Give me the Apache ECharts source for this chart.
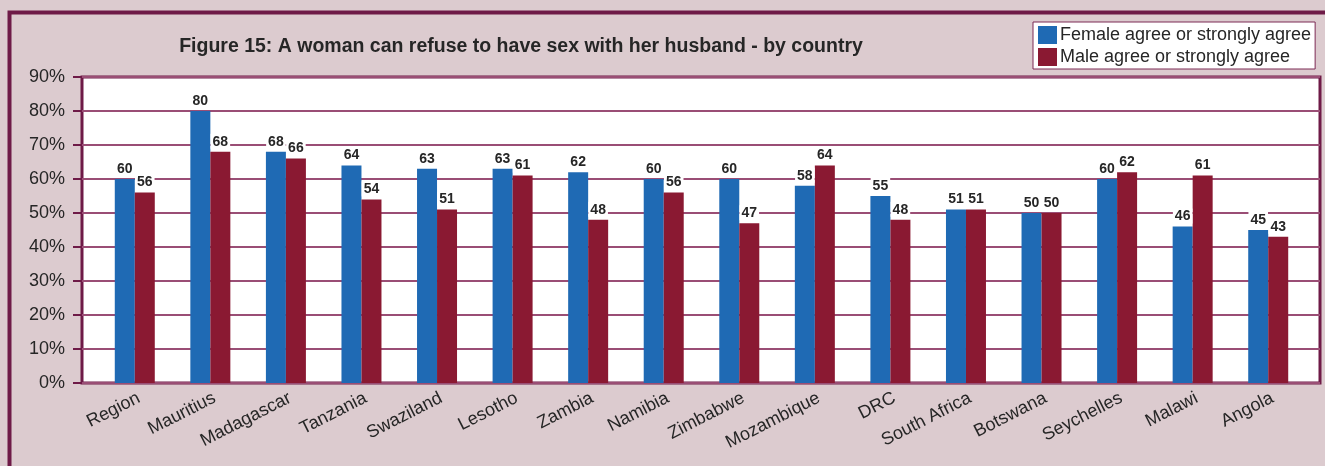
<!DOCTYPE html>
<html>
<head>
<meta charset="utf-8">
<script src="https://cdn.jsdelivr.net/npm/echarts@6/dist/echarts.min.js"></script>
<style>
  html, body { margin: 0; padding: 0; background: #dccbcf; }
  #chart { width: 1325px; height: 466px; }
</style>
</head>
<body>
<div id="chart"></div>
<script>
// Agreement that a woman can refuse sex with her husband, by country (%)
const countries = ['Region', 'Mauritius', 'Madagascar', 'Tanzania', 'Swaziland', 'Lesotho', 'Zambia', 'Namibia',
  'Zimbabwe', 'Mozambique', 'DRC', 'South Africa', 'Botswana', 'Seychelles', 'Malawi', 'Angola'];
const femaleAgree = [60, 80, 68, 64, 63, 63, 62, 60, 60, 58, 55, 51, 50, 60, 46, 45];
const maleAgree   = [56, 68, 66, 54, 51, 61, 48, 56, 47, 64, 48, 51, 50, 62, 61, 43];
const yTicks = { min: 0, max: 90, interval: 10 };

const FRAME = '#6e1a47';
const GRIDLINE = '#9a4e75';
const BLUE = '#1f6ab4';
const WINE = '#8a1932';
const TEXT = '#262626';
const FONT = '"Liberation Sans", Arial, sans-serif';

const chart = echarts.init(document.getElementById('chart'));

const valueLabel = {
  show: true,
  position: 'top',
  distance: 3,
  color: TEXT,
  fontFamily: FONT,
  fontWeight: 'bold',
  fontSize: 14,
  backgroundColor: '#ffffff',
  padding: [1, 2, 0, 2]
};

chart.setOption({
  backgroundColor: '#dccbcf',
  animation: false,
  title: {
    text: 'Figure 15: A woman can refuse to have sex with her husband - by country',
    left: 516,
    top: 32,
    textAlign: 'center',
    textStyle: {
      fontFamily: FONT,
      fontWeight: 'bold',
      fontSize: 19.5,
      color: TEXT
    }
  },
  legend: {
    orient: 'vertical',
    left: 1033,
    top: 22,
    itemWidth: 19,
    itemHeight: 18,
    itemGap: 4,
    icon: 'rect',
    backgroundColor: '#ffffff',
    borderColor: '#7d2a55',
    borderWidth: 1,
    borderRadius: 0,
    padding: [4, 4, 3, 5],
    textStyle: { fontFamily: FONT, fontSize: 18, color: TEXT, padding: [0, 0, 0, -2] },
    data: ['Female agree or strongly agree', 'Male agree or strongly agree']
  },
  graphic: [{
    type: 'rect',
    silent: true,
    z: 100,
    shape: { x: 9.5, y: 12.5, width: 1400, height: 500 },
    style: { fill: 'none', stroke: FRAME, lineWidth: 4 }
  }],
  grid: [
    // plot frame with the percentage scale
    { left: 82, right: 5, top: 77, bottom: 83, show: true, backgroundColor: '#ffffff',
      borderColor: FRAME, borderWidth: 3, containLabel: false },
    // bar area, inset so the country groups sit inside the frame
    { left: 97, right: 19, top: 77, bottom: 83, containLabel: false }
  ],
  xAxis: [
    { gridIndex: 0, type: 'value', show: false, min: 0, max: 1 },
    {
      gridIndex: 1,
      type: 'category',
      data: countries,
      axisLine: { show: false },
      axisTick: { show: false },
      axisLabel: {
        rotate: 27,
        margin: 6,
        interval: 0,
        verticalAlign: 'top',
        fontFamily: FONT,
        fontSize: 18,
        color: TEXT
      }
    }
  ],
  yAxis: [
    {
      gridIndex: 0,
      type: 'value',
      min: yTicks.min,
      max: yTicks.max,
      interval: yTicks.interval,
      axisLine: { show: false },
      axisTick: { show: true, length: 9, lineStyle: { color: FRAME, width: 2 } },
      axisLabel: {
        formatter: '{value}%',
        margin: 17,
        fontFamily: FONT,
        fontSize: 18,
        color: TEXT
      },
      splitLine: { show: true, lineStyle: { color: GRIDLINE, width: 2 } }
    },
    { gridIndex: 1, type: 'value', min: yTicks.min, max: yTicks.max, show: false, splitLine: { show: false } }
  ],
  series: [
    {
      name: 'Female agree or strongly agree',
      type: 'bar',
      xAxisIndex: 1,
      yAxisIndex: 1,
      data: femaleAgree,
      barWidth: 20,
      barGap: '0%',
      itemStyle: { color: BLUE },
      label: valueLabel,
      z: 3
    },
    {
      name: 'Male agree or strongly agree',
      type: 'bar',
      xAxisIndex: 1,
      yAxisIndex: 1,
      data: maleAgree,
      barWidth: 20,
      barGap: '0%',
      itemStyle: { color: WINE },
      label: valueLabel,
      z: 3
    }
  ]
});
</script>
</body>
</html>
